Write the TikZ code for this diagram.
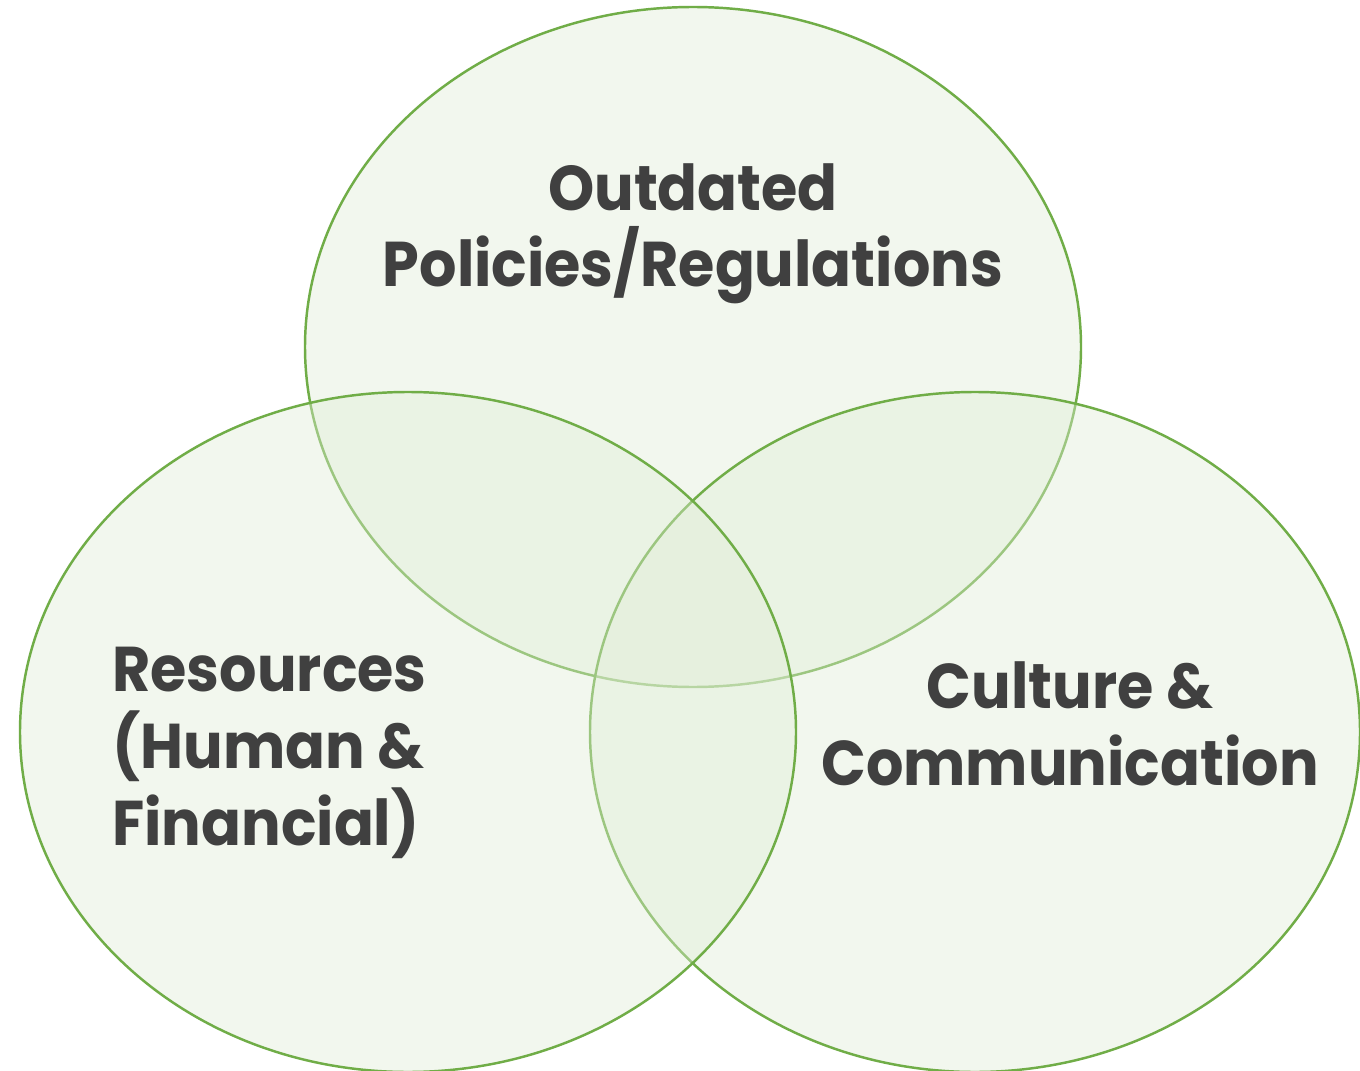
\documentclass[tikz,border=0pt]{standalone}
\usepackage{fontspec}
\setmainfont{Poppins}[BoldFont={* Bold},BoldFeatures={FakeStretch=0.93}]
\definecolor{vgreen}{HTML}{70AD47}
\definecolor{vfill}{RGB}{224,237,214}
\definecolor{vtext}{HTML}{404040}
\begin{document}
\begin{tikzpicture}[x=0.02cm,y=-0.02cm,
  setbox/.style={draw=vgreen,line width=1.4pt,fill=vfill,fill opacity=0.4,draw opacity=1},
  lbl/.style={text=vtext,font=\fontsize{36}{43.7}\selectfont\bfseries,inner sep=0pt,anchor=base}]
\useasboundingbox (0,0) rectangle (1360,1071);
\fill[white] (0,0) rectangle (1360,1071);
\filldraw[setbox] (693,347) ellipse [x radius=388, y radius=340];
\filldraw[setbox] (975,732) ellipse [x radius=385, y radius=340];
\filldraw[setbox] (408,732) ellipse [x radius=388, y radius=340];
\node[lbl,align=center] (top) at (693,287) {Outdated\\Policies/Regulations};
\node[lbl,align=left,anchor=base west] (left) at (112,845) {Resources\\(Human \&\\Financial)};
\node[lbl,align=center] (right) at (1070,785) {Culture \&\\Communication};
\end{tikzpicture}
\end{document}
